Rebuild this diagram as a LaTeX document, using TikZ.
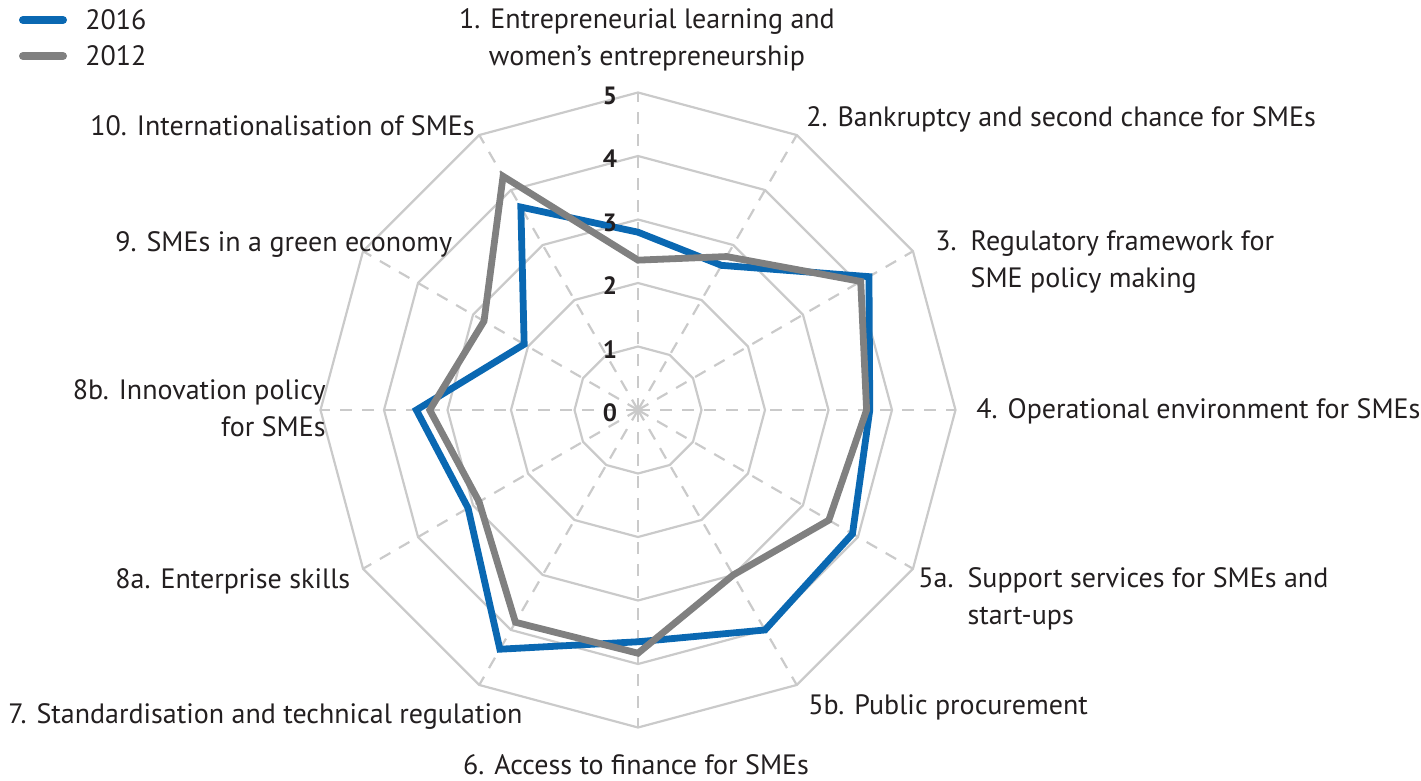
\documentclass[tikz,border=0pt]{standalone}
\usepackage{fontspec}
\setmainfont{PT Sans}
\definecolor{gridgray}{HTML}{CACACA}
\definecolor{blue16}{HTML}{0A68B2}
\definecolor{gray12}{HTML}{808080}
\definecolor{textdark}{HTML}{231F20}
\begin{document}
\begin{tikzpicture}[x=0.5pt,y=0.5pt]
\tikzset{
  ring/.style={draw=gridgray, line width=1.1pt},
  spoke/.style={draw=gridgray, line width=1.1pt, dash pattern=on 6pt off 5pt},
  score2016/.style={draw=blue16, line width=3.4pt},
  score2012/.style={draw=gray12, line width=3.4pt},
  axislabel/.style={font=\fontsize{14}{18.3}\selectfont, text=textdark, inner sep=0pt},
  levellabel/.style={font=\bfseries\fontsize{12.5}{14}\selectfont, text=textdark, inner sep=0pt}
}
\useasboundingbox (0,0) rectangle (1421,-781);
\begin{scope}[shift={(638,-410)}]
% grid
\foreach \r in {1,...,5}
  \draw[ring] (90:63.5*\r) \foreach \a in {60,30,...,-240} {-- (\a:63.5*\r)} -- cycle;
\foreach \a in {0,30,...,330}
  \draw[spoke] (0,0) -- (\a:317.5);
% 2016
\draw[score2016] (90:63.5*2.8) -- (60:63.5*2.63) -- (30:63.5*4.2) -- (0:63.5*3.65)
  -- (-30:63.5*3.9) -- (-60:63.5*4.0) -- (-90:63.5*3.65) -- (-120:63.5*4.35)
  -- (-150:63.5*3.09) -- (180:63.5*3.49) -- (150:63.5*2.07) -- (120:63.5*3.69) -- cycle;
% 2012
\draw[score2012] (90:63.5*2.36) -- (60:63.5*2.79) -- (30:63.5*4.05) -- (0:63.5*3.6)
  -- (-30:63.5*3.47) -- (-60:63.5*3.0) -- (-90:63.5*3.83) -- (-120:63.5*3.86)
  -- (-150:63.5*2.89) -- (180:63.5*3.28) -- (150:63.5*2.8) -- (120:63.5*4.25) -- cycle;
% scale
\foreach \r in {0,...,5}
  \node[levellabel] (lev\r) at (-28,63.5*\r-3) {\r};
\end{scope}
% legend
\draw[score2016, line width=4pt, line cap=round] (23,-20) -- (63,-20);
\node[axislabel, anchor=west] (leg2016) at (85,-20) {2016};
\draw[score2012, line width=4pt, line cap=round] (23,-56) -- (63,-56);
\node[axislabel, anchor=west] (leg2012) at (85,-56) {2012};
% axis names
\node[axislabel, align=center] (lab1) at (647,-40) {1. Entrepreneurial learning and\\women’s entrepreneurship};
\node[axislabel, anchor=west] (lab2) at (806,-119) {2. Bankruptcy and second chance for SMEs};
\node[axislabel, anchor=west, align=left] (lab3) at (935,-262) {3.\enspace Regulatory framework for\\\phantom{3.\enspace}SME policy making};
\node[axislabel, anchor=west] (lab4) at (976,-411) {4. Operational environment for SMEs};
\node[axislabel, anchor=west, align=left] (lab5a) at (918,-599) {5a.\enspace Support services for SMEs and\\\phantom{5a.\enspace}start-ups};
\node[axislabel, anchor=west] (lab5b) at (808,-707) {5b. Public procurement};
\node[axislabel] (lab6) at (636,-765) {6. Access to finance for SMEs};
\node[axislabel, anchor=west] (lab7) at (8,-716) {7. Standardisation and technical regulation};
\node[axislabel, anchor=west] (lab8a) at (115,-581) {8a. Enterprise skills};
\node[axislabel, anchor=east, align=right] (lab8b) at (326,-408) {8b. Innovation policy\\for SMEs};
\node[axislabel, anchor=west] (lab9) at (115,-245) {9. SMEs in a green economy};
\node[axislabel, anchor=west] (lab10) at (90,-126) {10. Internationalisation of SMEs};
\end{tikzpicture}
\end{document}
